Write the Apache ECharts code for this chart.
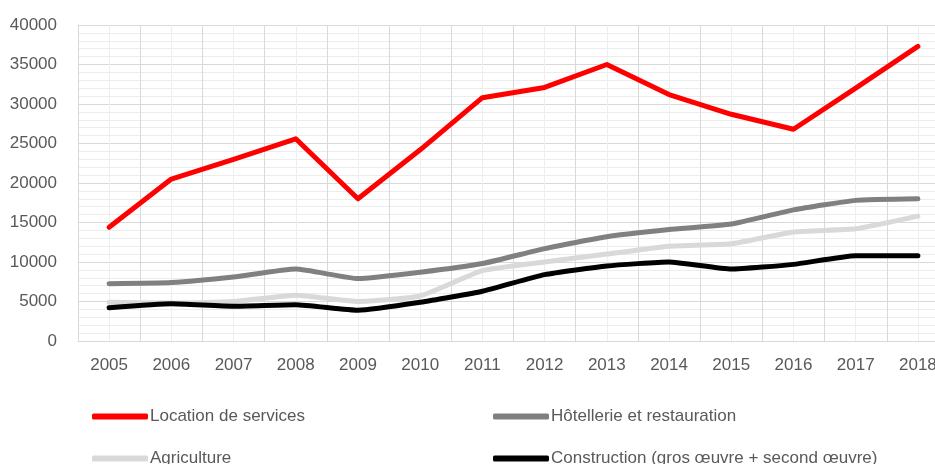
<!DOCTYPE html>
<html>
<head>
<meta charset="utf-8">
<script src="https://cdn.jsdelivr.net/npm/echarts@6/dist/echarts.min.js"></script>
<style>html,body{margin:0;padding:0;background:#fff;}#c{width:935px;height:464px;}</style>
</head>
<body>
<div id="c"></div>
<script>
var categories = ['2005','2006','2007','2008','2009','2010','2011','2012','2013','2014','2015','2016','2017','2018'];
var locationServices = [14400, 20500, 23000, 25600, 18000, 24200, 30800, 32100, 35000, 31200, 28700, 26800, 32000, 37300];
var hotellerie = [7250, 7400, 8100, 9100, 7900, 8700, 9800, 11700, 13200, 14100, 14800, 16600, 17800, 18000];
var agriculture = [4900, 4800, 5000, 5800, 5000, 5700, 8900, 10000, 11000, 12000, 12300, 13800, 14200, 15800];
var construction = [4200, 4700, 4400, 4600, 3900, 4900, 6300, 8400, 9500, 10000, 9100, 9700, 10800, 10800];
var seriesNames = ['Location de services', 'Hôtellerie et restauration', 'Agriculture', 'Construction (gros œuvre + second œuvre)'];
var seriesColors = ['#ff0000', '#808080', '#d9d9d9', '#000000'];

var FONT = "'Liberation Sans Narrow', 'Liberation Sans', Arial, sans-serif";
var chart = echarts.init(document.getElementById('c'), null, {renderer: 'canvas'});

function mkLegend(name, left, top) {
  return {
    data: [name], left: left, top: top, icon: 'roundRect',
    itemWidth: 56, itemHeight: 6, itemGap: 0,
    padding: 0,
    textStyle: {fontFamily: FONT, fontSize: 17, color: '#595959', padding: [0, 0, 0, -3]}
  };
}
var dataSets = [locationServices, hotellerie, agriculture, construction];

chart.setOption({
  animation: false,
  backgroundColor: '#ffffff',
  grid: {left: 78, top: 25, right: -14, bottom: 123, containLabel: false, outerBoundsMode: 'none'},
  legend: [
    mkLegend(seriesNames[0], 92, 408),
    mkLegend(seriesNames[1], 493, 408),
    mkLegend(seriesNames[2], 92, 450),
    mkLegend(seriesNames[3], 493, 450)
  ],
  xAxis: [
    {
      type: 'category', data: categories, boundaryGap: true,
      axisLine: {show: true, lineStyle: {color: '#d9d9d9', width: 1}},
      axisTick: {show: false},
      splitLine: {show: false},
      axisLabel: {fontFamily: FONT, fontSize: 17, color: '#595959', margin: 16}
    },
    {
      type: 'value', min: 0, max: 14, interval: 1, position: 'bottom',
      axisLine: {show: false}, axisTick: {show: false}, axisLabel: {show: false},
      splitLine: {show: true, lineStyle: {color: '#d9d9d9', width: 1}},
      minorTick: {show: false, splitNumber: 2},
      minorSplitLine: {show: true, lineStyle: {color: '#eeeeee', width: 1}}
    }
  ],
  yAxis: {
    type: 'value', min: 0, max: 40000, interval: 5000,
    axisLine: {show: true, lineStyle: {color: '#d9d9d9'}},
    axisTick: {show: false},
    axisLabel: {fontFamily: FONT, fontSize: 17, color: '#595959', margin: 21,
      formatter: function (v) { return String(v); }},
    splitLine: {show: true, lineStyle: {color: '#d9d9d9', width: 1}},
    minorTick: {show: false, splitNumber: 5},
    minorSplitLine: {show: true, lineStyle: {color: '#ececec', width: 1}}
  },
  series: seriesNames.map(function (n, i) {
    return {
      name: n, type: 'line', data: dataSets[i], xAxisIndex: 0, yAxisIndex: 0,
      showSymbol: false, symbol: 'none', smooth: i === 0 ? false : 0.15,
      lineStyle: {color: seriesColors[i], width: 5, cap: 'round', join: 'round'},
      itemStyle: {color: seriesColors[i]}
    };
  })
});
</script>
</body>
</html>
